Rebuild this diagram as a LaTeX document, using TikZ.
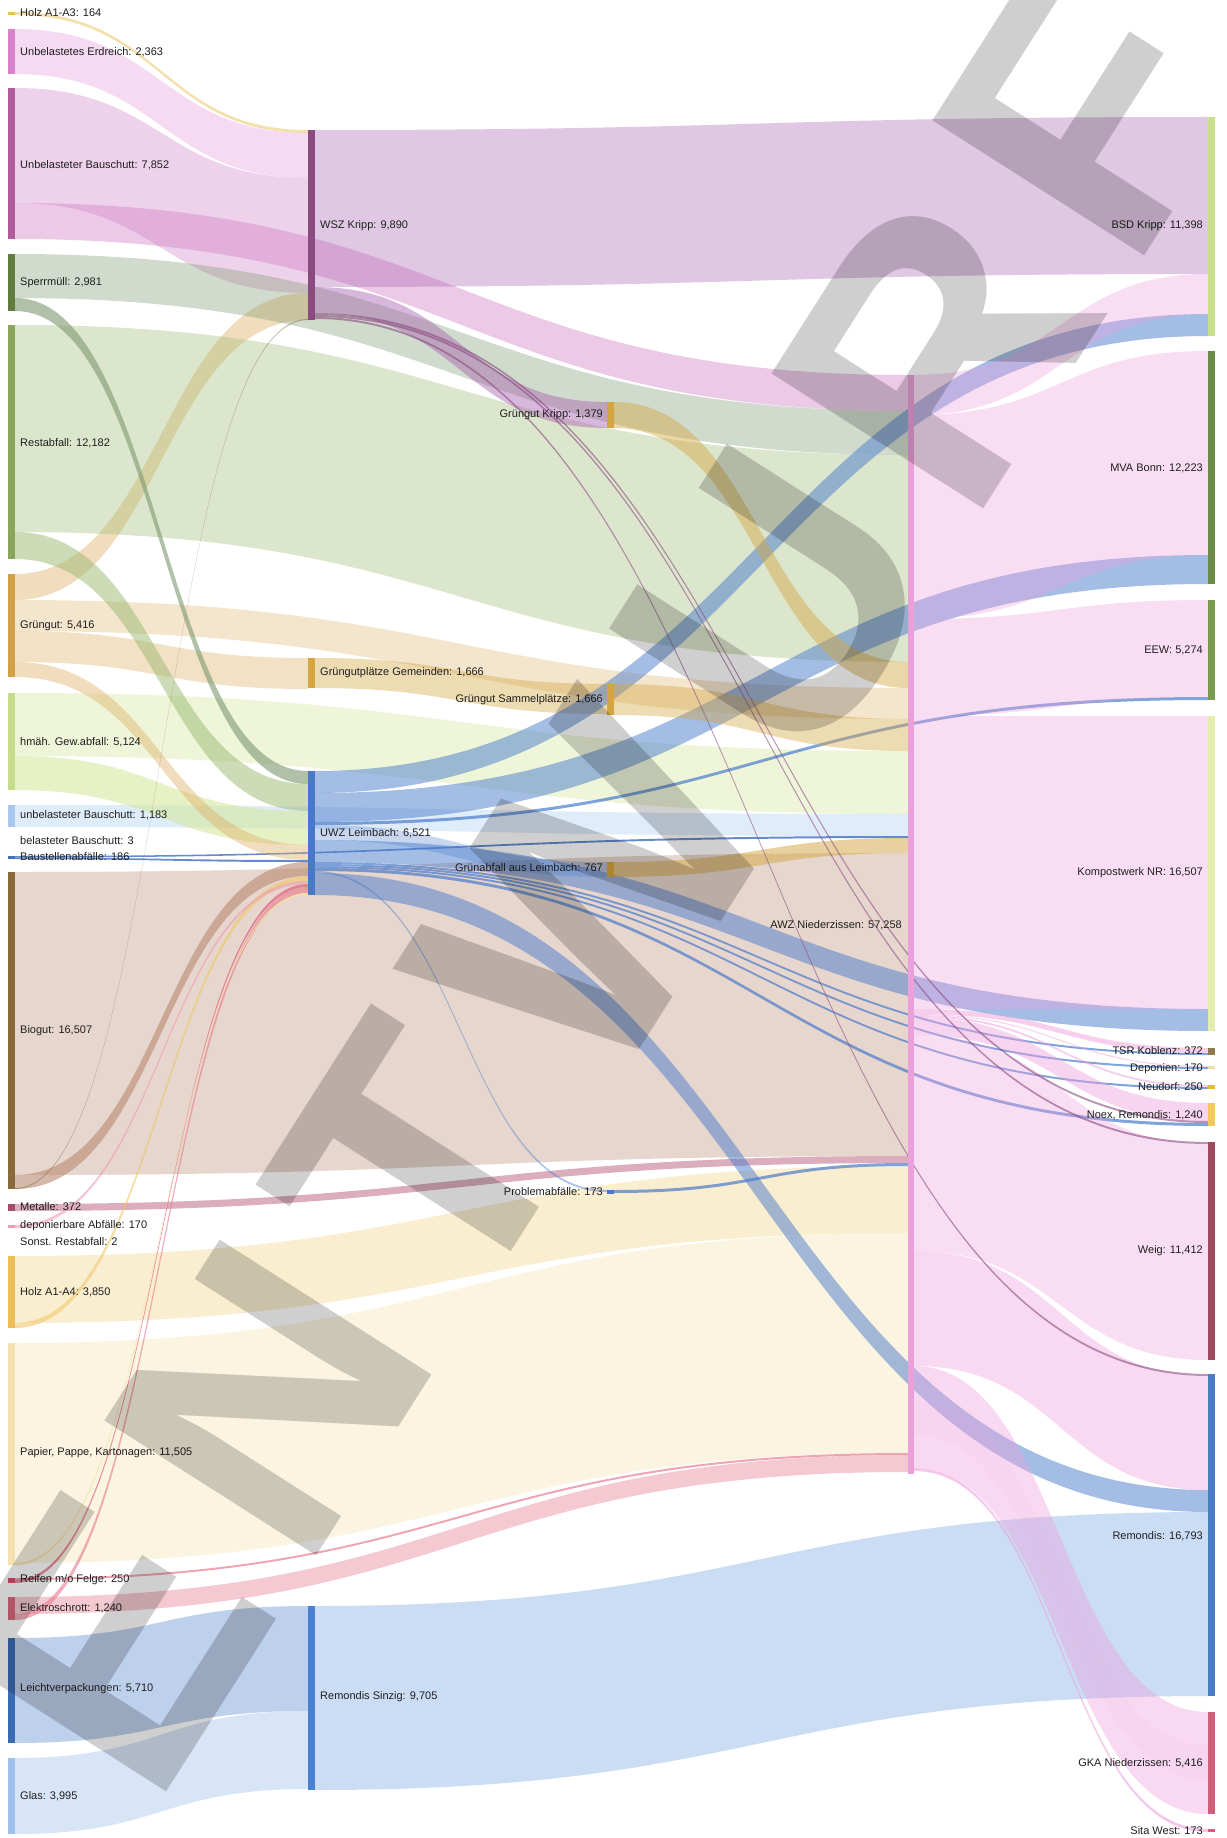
\documentclass[tikz,border=0pt]{standalone}
\usepackage{fontspec}
\setmainfont{Liberation Sans}
\definecolor{bHolzA}{HTML}{E8C25A}
\definecolor{bErd}{HTML}{D982CC}
\definecolor{lErd}{HTML}{E596DC}
\definecolor{bBau}{HTML}{B05C9C}
\definecolor{lBau}{HTML}{D07CC4}
\definecolor{bSperr}{HTML}{5F7D3F}
\definecolor{lSperr}{HTML}{7E9870}
\definecolor{bRest}{HTML}{89A65A}
\definecolor{lRest}{HTML}{9CB870}
\definecolor{bGrg}{HTML}{D3A04A}
\definecolor{lGrg}{HTML}{DDAA5A}
\definecolor{bHmah}{HTML}{C6DC8C}
\definecolor{lHmah}{HTML}{D6E8A0}
\definecolor{bUbau}{HTML}{A8C6EE}
\definecolor{lUbau}{HTML}{B0D0F4}
\definecolor{bBst}{HTML}{3F6FC0}
\definecolor{bBio}{HTML}{8A6A3C}
\definecolor{lBio}{HTML}{B88A70}
\definecolor{bMet}{HTML}{A24E66}
\definecolor{lMet}{HTML}{B85C7C}
\definecolor{bDep}{HTML}{F09CB4}
\definecolor{bHolzB}{HTML}{EDBD58}
\definecolor{lHolzB}{HTML}{F0C868}
\definecolor{bPap}{HTML}{F5E2B0}
\definecolor{lPap}{HTML}{F6E2A8}
\definecolor{bReif}{HTML}{E04A6A}
\definecolor{bElek}{HTML}{DC6A80}
\definecolor{lElek}{HTML}{E8798E}
\definecolor{bLvp}{HTML}{3A6CB4}
\definecolor{lLvp}{HTML}{5C8AD0}
\definecolor{bGlas}{HTML}{9EC0EC}
\definecolor{bWsz}{HTML}{8A4C80}
\definecolor{lWsz}{HTML}{A860B0}
\definecolor{bGold}{HTML}{D4A540}
\definecolor{bUwz}{HTML}{4A78C8}
\definecolor{lUwz}{HTML}{4A7CCC}
\definecolor{bAwz}{HTML}{EAA0D8}
\definecolor{lAwz}{HTML}{EEA0DC}
\definecolor{bSinz}{HTML}{4A80D0}
\definecolor{lSinz}{HTML}{6AA0E0}
\definecolor{bBsd}{HTML}{CBE08A}
\definecolor{bMva}{HTML}{6A8C48}
\definecolor{bEew}{HTML}{7A9A50}
\definecolor{bKomp}{HTML}{E2EEB0}
\definecolor{bTsr}{HTML}{8C7A50}
\definecolor{bDepo}{HTML}{F0E0A0}
\definecolor{bNeu}{HTML}{E8B840}
\definecolor{bNoex}{HTML}{F2C860}
\definecolor{bWeig}{HTML}{9C4A5C}
\definecolor{bRem}{HTML}{4A7CC8}
\definecolor{bGka}{HTML}{D0607A}
\definecolor{bSita}{HTML}{E05878}
% flow band: color, opacity, x0, y0top, y0bot, x1, y1top, y1bot
\newcommand{\fl}[8]{%
  \pgfmathsetmacro\xm{(#3+#6)/2}%
  \fill[#1,fill opacity=#2] (#3,#4) .. controls (\xm,#4) and (\xm,#7) .. (#6,#7)
     -- (#6,#8) .. controls (\xm,#8) and (\xm,#5) .. (#3,#5) -- cycle;}
% bar node: name, color, left x, top y, bottom y, width
\newcommand{\sbar}[6]{%
  \node[fill=#2, inner sep=0pt, outer sep=0pt, minimum width=#6pt,
        minimum height={#5-#4}] (#1) at ({#3+#6/2},{(#4+#5)/2}) {};}
\begin{document}
\begin{tikzpicture}[x=1pt,y=-1pt,
  lbl/.style={font=\fontsize{11}{13}\selectfont, text=black!88, inner sep=0pt},
  lw/.style={lbl, anchor=west},
  le/.style={lbl, anchor=east}]
\useasboundingbox (0,0) rectangle (1226,1838);
\fill[white] (0,0) rectangle (1226,1838);
% ---------- left -> WSZ Kripp
\fl{bHolzA}{0.5}{15}{12}{15}{308}{130}{133}
\fl{lErd}{0.35}{15}{29}{74}{308}{133}{178}
\fl{lBau}{0.35}{15}{88}{203}{308}{178}{293}
\fl{lGrg}{0.4}{15}{574}{600}{308}{293}{320}
% ---------- left -> AWZ Niederzissen
\fl{lBau}{0.4}{15}{203}{239}{908}{375}{411}
\fl{lSperr}{0.35}{15}{254}{298}{908}{411}{455}
\fl{lRest}{0.35}{15}{325}{532}{908}{455}{662}
\fl{lGrg}{0.3}{15}{600}{631}{908}{688}{719}
\fl{lHmah}{0.4}{15}{693}{756}{908}{751}{814}
\fl{lUbau}{0.4}{15}{805}{827}{908}{814}{836}
\fl{bBst}{0.8}{15}{856}{857.5}{908}{836}{838}
\fl{lBio}{0.35}{15}{872}{1175}{908}{853}{1156}
\fl{lMet}{0.5}{15}{1204}{1211}{908}{1156}{1163}
\fl{lHolzB}{0.3}{15}{1256}{1323}{908}{1166}{1233}
\fl{lPap}{0.35}{15}{1343}{1563}{908}{1233}{1453}
\fl{bReif}{0.5}{15}{1578}{1580}{908}{1453}{1455}
\fl{lElek}{0.4}{15}{1597}{1614}{908}{1455}{1472}
% ---------- left -> Gruengutplaetze Gemeinden
\fl{lGrg}{0.35}{15}{631}{662}{308}{658}{689}
% ---------- left -> UWZ Leimbach
\fl{lSperr}{0.6}{15}{298}{311}{308}{771}{784}
\fl{lRest}{0.5}{15}{532}{559}{308}{784}{811}
\fl{lHmah}{0.6}{15}{756}{790}{308}{811}{845}
\fl{lGrg}{0.4}{15}{662}{677}{308}{845}{860}
\fl{bBst}{0.8}{15}{857.5}{859}{308}{860}{862}
\fl{lBio}{0.6}{15}{1175}{1189}{308}{862}{876}
\fl{lHolzB}{0.6}{15}{1323}{1328}{308}{876}{881}
\fl{bDep}{0.6}{15}{1225}{1228}{308}{881}{884}
\fl{bReif}{0.6}{15}{1580}{1583}{308}{884}{887}
\fl{lElek}{0.6}{15}{1614}{1620}{308}{887}{893}
\fl{lPap}{0.8}{15}{1563}{1565}{308}{893}{895}
\fl{bBio}{0.5}{15}{1188}{1189}{308}{319}{320}
% ---------- left -> Remondis Sinzig
\fl{lLvp}{0.4}{15}{1638}{1743}{308}{1606}{1711}
\fl{bGlas}{0.4}{15}{1758}{1834}{308}{1711}{1789}
% ---------- column 2 -> ...
\fl{lWsz}{0.35}{315}{130}{287}{1208}{117}{274}
\fl{lWsz}{0.45}{315}{287}{313}{607}{402}{428}
\fl{bGold}{0.4}{315}{658}{688}{607}{684}{714}
\fl{lUwz}{0.5}{315}{771}{793}{1208}{314}{336}
\fl{lUwz}{0.5}{315}{793}{822}{1208}{555}{584}
\fl{lUwz}{0.7}{315}{822}{825}{1208}{697}{700}
\fl{lUwz}{0.3}{315}{825}{840}{607}{862}{877}
\fl{lUwz}{0.5}{315}{840}{862}{1208}{1009}{1031}
\fl{lUwz}{0.7}{315}{862}{864}{1208}{1053}{1055}
\fl{lUwz}{0.7}{315}{864}{866}{1208}{1067}{1069}
\fl{lUwz}{0.7}{315}{866}{868}{1208}{1087}{1089}
\fl{lUwz}{0.7}{315}{868}{871}{1208}{1123}{1126}
\fl{lUwz}{0.45}{315}{871}{873}{607}{1190}{1192}
\fl{lUwz}{0.5}{315}{873}{895}{1208}{1490}{1512}
\fl{lSinz}{0.35}{315}{1606}{1790}{1208}{1512}{1696}
% ---------- column 3 -> AWZ
\fl{bGold}{0.45}{614}{402}{428}{908}{662}{688}
\fl{bGold}{0.4}{614}{684}{715}{908}{719}{751}
\fl{bGold}{0.5}{614}{862}{877}{908}{838}{853}
\fl{lUwz}{0.7}{614}{1190}{1193}{908}{1163}{1166}
% ---------- AWZ -> right
\fl{lAwz}{0.35}{914}{375}{415}{1208}{274}{314}
\fl{lAwz}{0.35}{914}{415}{619}{1208}{351}{555}
\fl{lAwz}{0.35}{914}{619}{716}{1208}{600}{697}
\fl{lAwz}{0.35}{914}{716}{1009}{1208}{716}{1009}
\fl{lAwz}{0.5}{914}{1009}{1014}{1208}{1048}{1053}
\fl{lAwz}{0.5}{914}{1014}{1015}{1208}{1066}{1067}
\fl{lAwz}{0.5}{914}{1015}{1017}{1208}{1085}{1087}
\fl{lAwz}{0.45}{914}{1017}{1035}{1208}{1103}{1121}
\fl{lAwz}{0.35}{914}{1035}{1251}{1208}{1144}{1360}
\fl{lAwz}{0.4}{914}{1251}{1366}{1208}{1376}{1490}
\fl{lAwz}{0.4}{914}{1366}{1400}{1208}{1712}{1746}
\fl{lAwz}{0.45}{914}{1400}{1434}{1208}{1746}{1780}
\fl{lAwz}{0.4}{914}{1434}{1468}{1208}{1780}{1814}
\fl{lAwz}{0.6}{914}{1468}{1471}{1208}{1829}{1832}
% ---------- WSZ thin lines
\fl{bWsz}{0.6}{315}{313}{315}{1208}{1121}{1123}
\fl{bWsz}{0.6}{315}{315}{317}{1208}{1142}{1144}
\fl{bWsz}{0.6}{315}{317}{319}{1208}{1374}{1376}
% ---------- bars, column 1
\sbar{holz13}{bHolzA}{8}{12}{15}{7}
\sbar{erd}{bErd}{8}{29}{74}{7}
\sbar{bau}{bBau}{8}{88}{239}{7}
\sbar{sperr}{bSperr}{8}{254}{311}{7}
\sbar{rest}{bRest}{8}{325}{559}{7}
\sbar{grg}{bGrg}{8}{574}{677}{7}
\sbar{hmah}{bHmah}{8}{693}{790}{7}
\sbar{ubau}{bUbau}{8}{805}{827}{7}
\sbar{bst}{bBst}{8}{856}{859}{7}
\sbar{bio}{bBio}{8}{872}{1189}{7}
\sbar{met}{bMet}{8}{1204}{1211}{7}
\sbar{dep}{bDep}{8}{1225}{1228}{7}
\sbar{holz4}{bHolzB}{8}{1256}{1328}{7}
\sbar{pap}{bPap}{8}{1343}{1565}{7}
\sbar{reif}{bReif}{8}{1578}{1583}{7}
\sbar{elek}{bElek}{8}{1597}{1620}{7}
\sbar{lvp}{bLvp}{8}{1638}{1743}{7}
\sbar{glas}{bGlas}{8}{1758}{1834}{7}
% ---------- bars, column 2 and 3
\sbar{wsz}{bWsz}{308}{130}{320}{7}
\sbar{ggem}{bGold}{308}{658}{688}{7}
\sbar{uwz}{bUwz}{308}{771}{895}{7}
\sbar{sinz}{bSinz}{308}{1606}{1790}{7}
\sbar{gkripp}{bGold}{607}{402}{428}{7}
\sbar{gsam}{bGold}{607}{684}{715}{7}
\sbar{glei}{bGold}{607}{862}{877}{7}
\sbar{prob}{bUwz}{607}{1190}{1194}{7}
\sbar{awz}{bAwz}{908}{375}{1474}{6}
% ---------- bars, right column
\sbar{bsd}{bBsd}{1208}{117}{336}{7}
\sbar{mva}{bMva}{1208}{351}{584}{7}
\sbar{eew}{bEew}{1208}{600}{700}{7}
\sbar{komp}{bKomp}{1208}{716}{1031}{7}
\sbar{tsr}{bTsr}{1208}{1048}{1055}{7}
\sbar{depo}{bDepo}{1208}{1066}{1069}{7}
\sbar{neu}{bNeu}{1208}{1085}{1089}{7}
\sbar{noex}{bNoex}{1208}{1103}{1126}{7}
\sbar{weig}{bWeig}{1208}{1142}{1360}{7}
\sbar{rem}{bRem}{1208}{1374}{1696}{7}
\sbar{gka}{bGka}{1208}{1712}{1814}{7}
\sbar{sita}{bSita}{1208}{1829}{1832}{7}
% ---------- labels
\node[lw] (t1) at (20,13) {Holz A1-A3: 164};
\node[lw] (t2) at (20,52) {Unbelastetes Erdreich: 2,363};
\node[lw] (t3) at (20,165) {Unbelasteter Bauschutt: 7,852};
\node[lw] (t4) at (20,283) {Sperrmüll: 2,981};
\node[lw] (t5) at (20,443) {Restabfall: 12,182};
\node[lw] (t6) at (20,626) {Grüngut: 5,416};
\node[lw] (t7) at (20,742) {hmäh. Gew.abfall: 5,124};
\node[lw] (t8) at (20,815) {unbelasteter Bauschutt: 1,183};
\node[lw] (t9) at (20,841) {belasteter Bauschutt: 3};
\node[lw] (t10) at (20,857) {Baustellenabfälle: 186};
\node[lw] (t11) at (20,1031) {Biogut: 16,507};
\node[lw] (t12) at (20,1207) {Metalle: 372};
\node[lw] (t13) at (20,1226) {deponierbare Abfälle: 170};
\node[lw] (t14) at (20,1242) {Sonst. Restabfall: 2};
\node[lw] (t15) at (20,1292) {Holz A1-A4: 3,850};
\node[lw] (t16) at (20,1453) {Papier, Pappe, Kartonagen: 11,505};
\node[lw] (t17) at (20,1580) {Reifen m/o Felge: 250};
\node[lw] (t18) at (20,1608) {Elektroschrott: 1,240};
\node[lw] (t19) at (20,1689) {Leichtverpackungen: 5,710};
\node[lw] (t20) at (20,1796) {Glas: 3,995};
\node[lw] (t21) at (320,226) {WSZ Kripp: 9,890};
\node[lw] (t22) at (320,673) {Grüngutplätze Gemeinden: 1,666};
\node[lw] (t23) at (320,833) {UWZ Leimbach: 6,521};
\node[lw] (t24) at (320,1697) {Remondis Sinzig: 9,705};
\node[le] (t25) at (603,415) {Grüngut Kripp: 1,379};
\node[le] (t26) at (603,700) {Grüngut Sammelplätze: 1,666};
\node[le] (t27) at (603,868) {Grünabfall aus Leimbach: 767};
\node[le] (t28) at (603,1192) {Problemabfälle: 173};
\node[le] (t29) at (902,925) {AWZ Niederzissen: 57,258};
\node[le] (t30) at (1203,226) {BSD Kripp: 11,398};
\node[le] (t31) at (1203,468) {MVA Bonn: 12,223};
\node[le] (t32) at (1203,650) {EEW: 5,274};
\node[le] (t33) at (1203,873) {Kompostwerk NR: 16,507};
\node[le] (t34) at (1203,1051) {TSR Koblenz: 372};
\node[le] (t35) at (1203,1069) {Deponien: 170};
\node[le] (t36) at (1203,1087) {Neudorf: 250};
\node[le] (t37) at (1203,1115) {Noex, Remondis: 1,240};
\node[le] (t38) at (1203,1251) {Weig: 11,412};
\node[le] (t39) at (1203,1536) {Remondis: 16,793};
\node[le] (t40) at (1203,1763) {GKA Niederzissen: 5,416};
\node[le] (t41) at (1203,1831) {Sita West: 173};
% ---------- watermark
\node[font=\fontsize{365}{365}\selectfont\bfseries\addfontfeatures{LetterSpace=10},
      text=black, text opacity=0.19, rotate=57.5, inner sep=0pt] (wm) at (598,884) {ENTWURF};
\end{tikzpicture}
\end{document}
